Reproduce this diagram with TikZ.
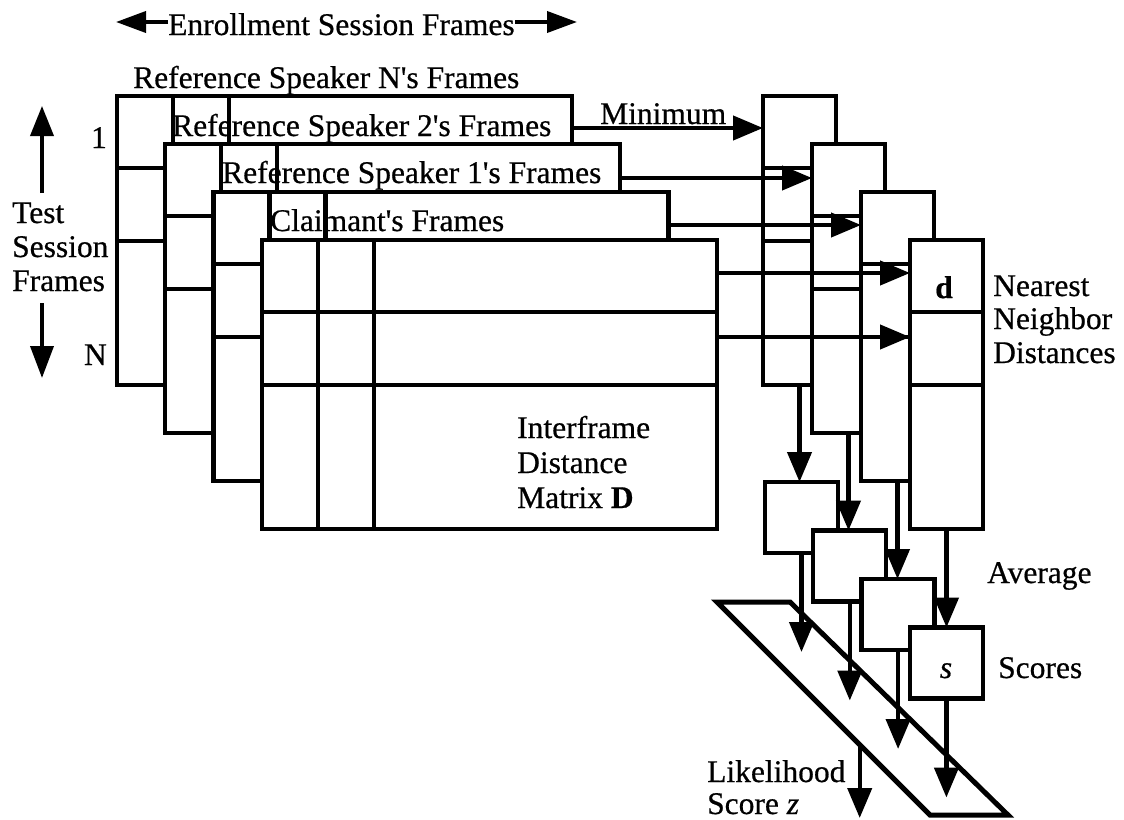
\documentclass[tikz,border=0pt]{standalone}
\usepackage{fontspec}
\setmainfont{Liberation Serif}[FakeBold=0.6]
\usetikzlibrary{arrows.meta,calc}
\begin{document}
\begin{tikzpicture}[x=1pt,y=-1pt,
  box/.style={draw, line width=4.3pt, fill=white, inner sep=0pt, outer sep=0pt, anchor=north west},
  grid/.style={line width=4.3pt},
  arr/.style={line width=4.3pt, -{Triangle[length=30pt,width=24pt]}},
  arrT/.style={line width=3.8pt, -{Triangle[length=30pt,width=21pt]}},
  lbl/.style={anchor=base west, inner sep=0pt, font=\fontsize{31.5}{35}\selectfont},
  lble/.style={anchor=base east, inner sep=0pt, font=\fontsize{31.5}{35}\selectfont},
  lblc/.style={anchor=base, inner sep=0pt, font=\fontsize{31.5}{35}\selectfont}]
\useasboundingbox (0,0) rectangle (1124,819);

% ---- distance matrices (back to front)
\foreach \i in {0,1,2,3}{
  \pgfmathsetmacro\L{117+48.3*\i}
  \pgfmathsetmacro\T{96+48*\i}
  \node[box, minimum width=455pt, minimum height=289pt] (m\i) at (\L,\T) {};
  \draw[grid] ($(m\i.north west)+(56,0)$) -- ($(m\i.south west)+(56,0)$);
  \draw[grid] ($(m\i.north west)+(112,0)$) -- ($(m\i.south west)+(112,0)$);
  \draw[grid] ($(m\i.north west)+(0,72)$) -- ($(m\i.north east)+(0,72)$);
  \draw[grid] ($(m\i.north west)+(0,145)$) -- ($(m\i.north east)+(0,145)$);
}

% ---- labels of the matrices
\node[lbl] (labN) at (133,88) {Reference Speaker N\textquotesingle s Frames};
\node[lbl] (lab2) at (172,136) {Reference Speaker 2\textquotesingle s Frames};
\node[lbl] (lab1) at (222,183) {Reference Speaker 1\textquotesingle s Frames};
\node[lbl] (labC) at (270,231) {Claimant\textquotesingle s Frames};
\node[lbl] (int1) at (517,438) {Interframe};
\node[lbl] (int2) at (517,473) {Distance};
\node[lbl] (int3) at (517,508) {Matrix \textbf{D}};

% ---- enrollment session frames
\node[lbl] (ens) at (168,35) {Enrollment Session Frames};
\coordinate (el) at (116,22);
\coordinate (er) at (577,22);
\draw[arrT] (ens.west |- el) -- (el);
\draw[arrT] (ens.east |- er) -- (er);

% ---- test session frames
\node[lbl] (ts1) at (12,223) {Test};
\node[lbl] (ts2) at (12,257) {Session};
\node[lbl] (ts3) at (12,291) {Frames};
\coordinate (tu0) at (42,193);
\coordinate (tu1) at (42,106);
\coordinate (td0) at (42,303);
\coordinate (td1) at (42,378);
\draw[arrT, -{Triangle[length=30pt,width=23pt]}] (tu0) -- (tu1);
\draw[arrT, -{Triangle[length=32pt,width=23pt]}] (td0) -- (td1);
\node[lble] (one) at (107,148) {1};
\node[lble] (enn) at (107,365) {N};

% ---- nearest neighbour distance columns
\foreach \i in {1,2,3,4}{
  \pgfmathsetmacro\L{763+49*(\i-1)}
  \pgfmathsetmacro\T{96+48*(\i-1)}
  \node[box, minimum width=73pt, minimum height=289pt] (c\i) at (\L,\T) {};
  \draw[grid] ($(c\i.north west)+(0,72)$) -- ($(c\i.north east)+(0,72)$);
  \draw[grid] ($(c\i.north west)+(0,145)$) -- ($(c\i.north east)+(0,145)$);
}
\node[lblc, font=\fontsize{31.5}{35}\selectfont\bfseries] (dd) at (944,298) {d};

% ---- minimum arrows
\coordinate (s0) at ($(m0.north east)+(0,32)$);
\coordinate (s1) at ($(m1.north east)+(0,34)$);
\coordinate (s2) at ($(m2.north east)+(0,33)$);
\coordinate (s3) at ($(m3.north east)+(0,33)$);
\coordinate (s4) at ($(m3.north east)+(0,97)$);
\draw[arr] (s0) -- (s0 -| c1.west);
\draw[arr] (s1) -- (s1 -| c2.west);
\draw[arr] (s2) -- (s2 -| c3.west);
\draw[arr] (s3) -- (s3 -| c4.west);
\draw[arr] (s4) -- (s4 -| c4.west);
\node[lbl] (mini) at (600,124) {Minimum};

\node[lbl] (nn1) at (993,296) {Nearest};
\node[lbl] (nn2) at (993,329) {Neighbor};
\node[lbl] (nn3) at (993,363) {Distances};

% ---- average boxes (scores)
\foreach \i in {1,2,3,4}{
  \pgfmathsetmacro\L{765+48.3*(\i-1)}
  \pgfmathsetmacro\T{482+48.5*(\i-1)}
  \node[box, minimum width=73pt, minimum height=71pt] (a\i) at (\L,\T) {};
}
\node[lblc, font=\fontsize{31.5}{35}\selectfont\itshape] (ss) at (946,678) {s};
\foreach \i in {1,2,3,4}{
  \draw[arr] (c\i.south) -- (c\i.south |- a\i.north);
}
\node[lbl] (avg) at (987,583) {Average};
\node[lbl] (sco) at (998,678) {Scores};

% ---- likelihood parallelogram
\coordinate (p1) at (717,602);
\coordinate (p2) at (790,602);
\coordinate (p3) at (1008,815);
\coordinate (p4) at (930,815);
\draw[line width=5pt, line join=miter] (p1) -- (p2) -- (p3) -- (p4) -- cycle;
\foreach \i in {1,2,3,4}{
  \coordinate (t\i) at ($(a\i.south)+(0,99)$);
  \draw[arr] (a\i.south) -- (t\i);
}
\coordinate (lz0) at ($(p1)!0.67!(p4)$);
\coordinate (lz1) at (lz0 |- 0,818);
\draw[arr] (lz0) -- (lz1);
\node[lbl] (lk1) at (707,782) {Likelihood};
\node[lbl] (lk2) at (707,814) {Score \textit{z}};
\end{tikzpicture}
\end{document}
